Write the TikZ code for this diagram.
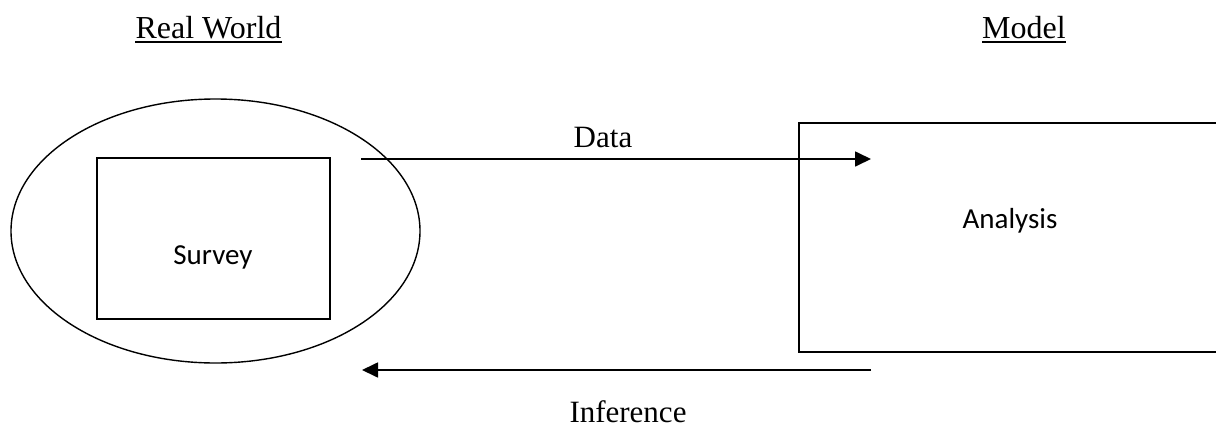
\documentclass[tikz,border=0pt]{standalone}
\usepackage{fontspec}
\setmainfont{Liberation Serif}
\newfontfamily\boxfont{Carlito}
\usetikzlibrary{arrows.meta,shapes.geometric}

\tikzset{
  heading/.style={anchor=base,inner sep=0pt,font=\fontsize{32}{38}\selectfont},
  flowlabel/.style={anchor=base,inner sep=0pt,font=\fontsize{31}{37}\selectfont},
  boxlabel/.style={anchor=base,inner sep=0pt,font=\boxfont\fontsize{29}{34}\selectfont},
  frame/.style={draw,line width=1.7pt,inner sep=0pt},
  flow/.style={line width=1.7pt,-{Triangle[length=16pt,width=15pt]}},
  uline/.style={line width=2pt}
}

\begin{document}
\begin{tikzpicture}[x=1pt,y=-1pt]
  \useasboundingbox (0,0) rectangle (1216,426);
  \clip (0,0) rectangle (1216,426);

  % column headings
  \node[heading] (rw) at (208.5,38) {Real World};
  \draw[uline] (rw.west |- 0,42) -- (rw.east |- 0,42);
  \node[heading] (mdl) at (1024,38) {Model};
  \draw[uline] (mdl.west |- 0,42) -- (mdl.east |- 0,42);

  % the real world and the survey inside it
  \node[ellipse,draw,line width=1.4pt,minimum width=409pt,minimum height=264pt,inner sep=0pt] (world) at (215.5,231) {};
  \node[frame,minimum width=233pt,minimum height=161pt] (survey) at (213.5,238.5) {};
  \node[boxlabel] (surveytxt) at (213,264) {Survey};

  % the model side
  \node[frame,minimum width=422pt,minimum height=229pt] (analysis) at (1010,237.5) {};
  \node[boxlabel] (analysistxt) at (1010,228) {Analysis};

  % flows between the two sides
  \coordinate (dataA) at (361,159);
  \coordinate (dataB) at (871,159);
  \coordinate (infA) at (871,370);
  \coordinate (infB) at (362,370);
  \draw[flow] (dataA) -- (dataB);
  \draw[flow] (infA) -- (infB);
  \node[flowlabel] (datatxt) at (603,147) {Data};
  \node[flowlabel] (inftxt) at (628,422) {Inference};
\end{tikzpicture}
\end{document}
